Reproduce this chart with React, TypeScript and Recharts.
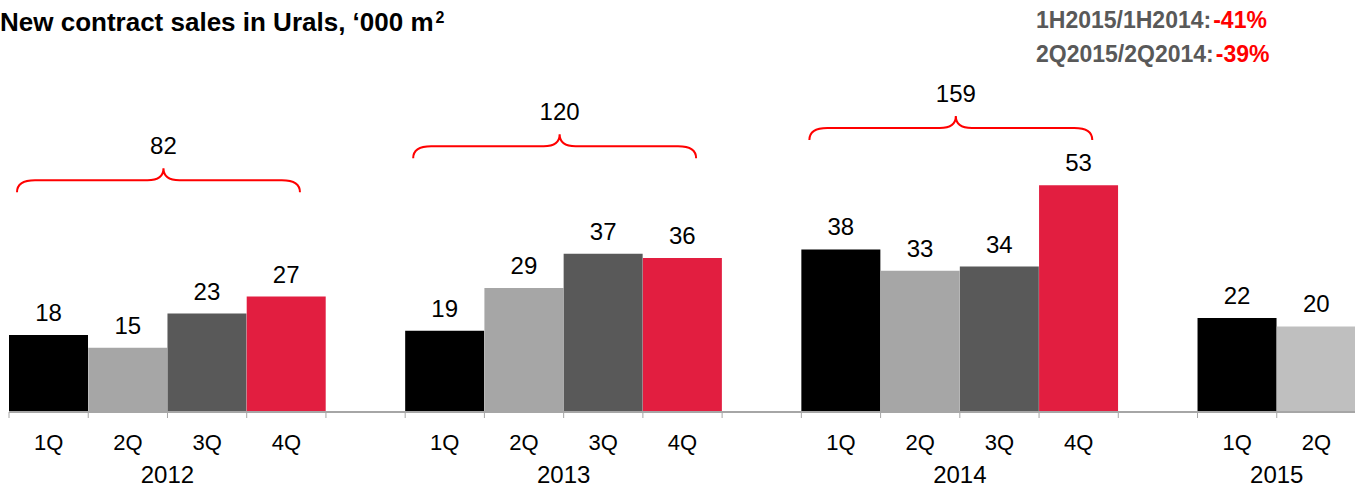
import { Bar, BarChart, Cell, LabelList, ReferenceLine, XAxis, YAxis } from 'recharts';

const years = ['2012', '2013', '2014', '2015'];
const quarters = ['1Q', '2Q', '3Q', '4Q'];
const sales2012 = [18, 15, 23, 27];
const sales2013 = [19, 29, 37, 36];
const sales2014 = [38, 33, 34, 53];
const sales2015 = [22, 20];
const yearTotals = [82, 120, 159];

const salesByYear = [sales2012, sales2013, sales2014, sales2015];

interface Row {
  key: string;
  year: string;
  quarter: string;
  qIndex: number;
  groupSize: number;
  value: number | null;
}

// one slot per quarter, plus an empty slot between years
const rows: Row[] = [];
salesByYear.forEach((vals, yi) => {
  vals.forEach((v, qi) =>
    rows.push({
      key: `${years[yi]}-${quarters[qi]}`,
      year: years[yi],
      quarter: quarters[qi],
      qIndex: qi,
      groupSize: vals.length,
      value: v,
    })
  );
  if (yi < salesByYear.length - 1)
    rows.push({ key: `gap-${yi}`, year: '', quarter: '', qIndex: -1, groupSize: 0, value: null });
});

const QUARTER_COLORS = ['#000000', '#a6a6a6', '#595959', '#e21e40'];
const barColor = (r: Row) => (r.year === '2015' && r.qIndex === 1 ? '#bfbfbf' : QUARTER_COLORS[r.qIndex]);

// height (in value units) at which each year's bracket sits
const BRACE_LEVELS = [54.2, 62.1, 66.4];

const FONT = '"Liberation Sans", Arial, sans-serif';
const SLOT_FALLBACK = 1347 / 17 / 2;

function QuarterTick(props: any) {
  const { x, y, payload } = props;
  const row = rows.find((r) => r.key === payload.value);
  const half = payload.offset ?? SLOT_FALLBACK;
  return (
    <g>
      <line x1={x - half} x2={x - half} y1={y} y2={y + 6} stroke="#a6a6a6" strokeWidth={1} />
      {row && row.quarter && (
        <text x={x} y={y + 38} textAnchor="middle" fontSize={22} fill="#000">
          {row.quarter}
        </text>
      )}
      {row && row.qIndex === 0 && (
        <text x={x + (row.groupSize - 1) * half} y={y + 71} textAnchor="middle" fontSize={24} fill="#000">
          {row.year}
        </text>
      )}
    </g>
  );
}

function Brace(props: any) {
  const { x1, y1, x2, total } = props;
  const y = y1;
  const left = x1 + 8;
  const right = x2 - 26;
  const peak = (left + right) / 2 + 5;
  const d = [
    `M${left},${y + 12}`,
    `Q${left},${y} ${left + 18},${y}`,
    `L${peak - 16},${y}`,
    `Q${peak},${y} ${peak},${y - 12}`,
    `Q${peak},${y} ${peak + 16},${y}`,
    `L${right - 18},${y}`,
    `Q${right},${y} ${right},${y + 12}`,
  ].join(' ');
  return (
    <g>
      <path d={d} stroke="#ff0000" strokeWidth={2} fill="none" />
      <text x={peak} y={y - 26} textAnchor="middle" fontSize={24} fill="#000">
        {total}
      </text>
    </g>
  );
}

export default function App() {
  return (
    <div style={{ position: 'absolute', left: 0, top: 0, width: 1355, height: 488, background: '#fff', fontFamily: FONT, overflow: 'hidden' }}>
      <BarChart
        width={1356}
        height={488}
        data={rows}
        margin={{ top: 27, right: 0, left: 9, bottom: 0 }}
        barCategoryGap={0}
        barGap={0}
      >
        <XAxis
          dataKey="key"
          height={76}
          interval={0}
          tickSize={0}
          tickMargin={0}
          tickLine={false}
          axisLine={{ stroke: '#a6a6a6', strokeWidth: 2 }}
          tick={<QuarterTick />}
        />
        <YAxis hide domain={[0, 90]} />
        {yearTotals.map((total, i) => (
          <ReferenceLine
            key={years[i]}
            segment={[
              { x: `${years[i]}-1Q`, y: BRACE_LEVELS[i] },
              { x: `gap-${i}`, y: BRACE_LEVELS[i] },
            ]}
            position="start"
            ifOverflow="visible"
            shape={(p: any) => <Brace {...p} total={total} />}
          />
        ))}
        <Bar dataKey="value" isAnimationActive={false}>
          {rows.map((r) => (
            <Cell key={r.key} fill={r.qIndex >= 0 ? barColor(r) : 'none'} />
          ))}
          <LabelList dataKey="value" position="top" offset={14} fill="#000" fontSize={24} fontFamily={FONT} />
        </Bar>
      </BarChart>
      <svg width={1355} height={488} style={{ position: 'absolute', left: 0, top: 0, pointerEvents: 'none' }}>
        <text x={0} y={31} fontSize={26} fontWeight="bold" fill="#000" fontFamily={FONT}>
          New contract sales in Urals, ‘000 m
          <tspan fontSize={16} dy={-8} dx={2}>2</tspan>
        </text>
        <text x={1036} y={28} fontSize={23} fontWeight="bold" fill="#595959" fontFamily={FONT}>
          1H2015/1H2014:
          <tspan fill="#ff0000" dx={2}>-41%</tspan>
        </text>
        <text x={1036} y={62} fontSize={23} fontWeight="bold" fill="#595959" fontFamily={FONT}>
          2Q2015/2Q2014:
          <tspan fill="#ff0000" dx={2}>-39%</tspan>
        </text>
      </svg>
    </div>
  );
}
